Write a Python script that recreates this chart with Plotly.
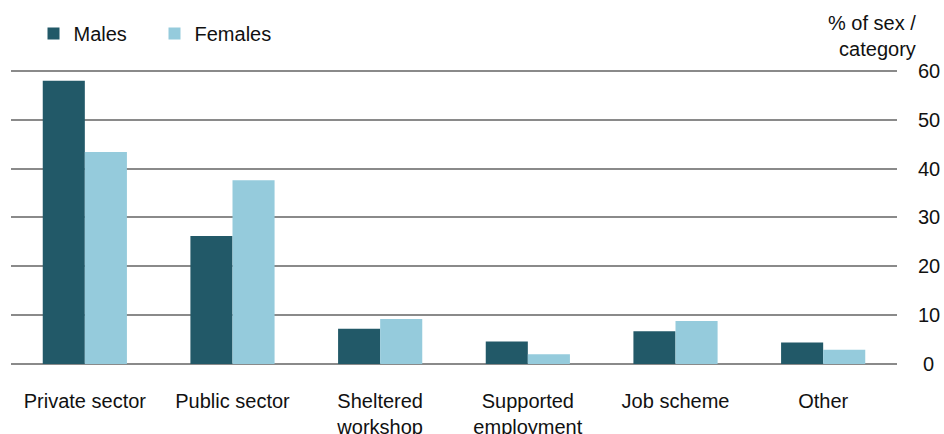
import plotly.graph_objects as go

# Share of each sex employed, by type of employer (%)
categories = ["Private sector", "Public sector", "Sheltered<br>workshop",
              "Supported<br>employment", "Job scheme", "Other"]
males = [58.0, 26.2, 7.2, 4.6, 6.7, 4.4]
females = [43.4, 37.6, 9.2, 2.0, 8.8, 2.9]

y_ticks = [0, 10, 20, 30, 40, 50, 60]
y_tick_labels = ["\u20050", "10", "20", "30", "40", "50", "60"]

MALE_COLOR = "#225968"
FEMALE_COLOR = "#95cbdc"
GRID_COLOR = "#8a8a8a"
TEXT_COLOR = "#111111"
FONT = "Liberation Sans, Arial, sans-serif"

fig = go.Figure()
fig.add_trace(go.Bar(name="Males", x=categories, y=males,
                     marker=dict(color=MALE_COLOR, line=dict(width=0))))
fig.add_trace(go.Bar(name="Females", x=categories, y=females,
                     marker=dict(color=FEMALE_COLOR, line=dict(width=0))))

fig.update_layout(
    width=944, height=434,
    margin=dict(l=11, r=47, t=69, b=70, autoexpand=False),
    paper_bgcolor="white", plot_bgcolor="white",
    font=dict(family=FONT, size=20, color=TEXT_COLOR),
    barmode="group", bargap=0.43, bargroupgap=0,
    showlegend=True,
    legend=dict(orientation="h", x=0.0254, y=1.12, xanchor="left", yanchor="middle",
                xref="paper", yref="paper",
                entrywidth=76, entrywidthmode="pixels",
                font=dict(size=20, family=FONT, color=TEXT_COLOR),
                bgcolor="rgba(0,0,0,0)", itemclick=False),
    xaxis=dict(showgrid=False, showline=False, zeroline=False, automargin=False,
               ticks="", ticklabelstandoff=23,
               tickfont=dict(size=20, family=FONT, color=TEXT_COLOR)),
    yaxis=dict(side="right", range=[0, 60.4], tickvals=y_ticks, ticktext=y_tick_labels,
               showgrid=True, gridcolor=GRID_COLOR, gridwidth=1.5,
               zeroline=True, zerolinecolor=GRID_COLOR, zerolinewidth=1.5,
               showline=False, ticks="", ticklabelstandoff=20, automargin=False,
               tickfont=dict(size=20, family=FONT, color=TEXT_COLOR)),
    annotations=[dict(text="% of sex /<br>category", xref="paper", yref="paper",
                      x=1.0237, y=1.112, xanchor="right", yanchor="middle",
                      align="right", showarrow=False,
                      font=dict(size=20, family=FONT, color=TEXT_COLOR))],
)

fig.write_html("out.html")
